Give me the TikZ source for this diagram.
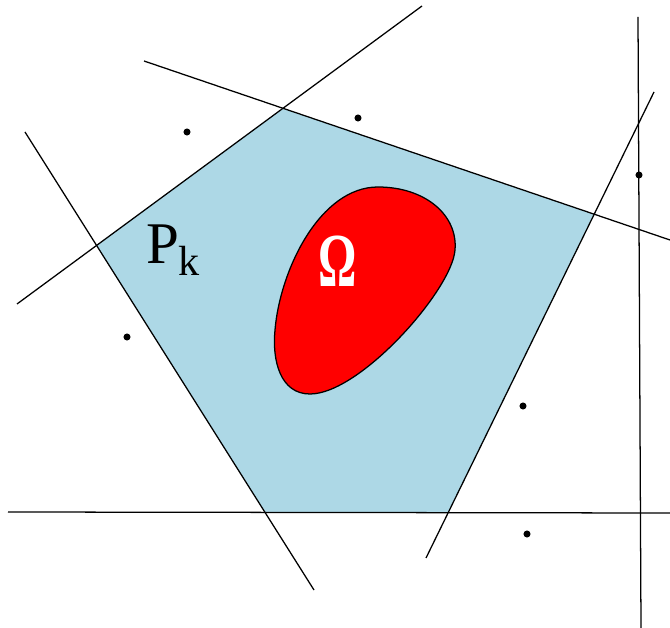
\documentclass[tikz,border=0pt]{standalone}
\usepackage{fontspec}
\setmainfont{Liberation Serif}
\usepackage{tikz}
\definecolor{cellblue}{RGB}{173,216,230}

\begin{document}
\begin{tikzpicture}[x=0.025cm, y=-0.025cm, line width=0.9pt]
    \useasboundingbox (0,0) rectangle (670,628);
    % end points of the cutting lines
    \coordinate (a1) at (17,304);  \coordinate (a2) at (422,6);
    \coordinate (b1) at (144,61);  \coordinate (b2) at (670,240);
    \coordinate (c1) at (654,92);  \coordinate (c2) at (426,558);
    \coordinate (d1) at (8,512);   \coordinate (d2) at (670,513);
    \coordinate (e1) at (25,132);  \coordinate (e2) at (314,590);
    \coordinate (f1) at (638,17);  \coordinate (f2) at (641,628);
    % vertices of the cell
    \coordinate (v1) at (intersection of a1--a2 and e1--e2);
    \coordinate (v2) at (intersection of a1--a2 and b1--b2);
    \coordinate (v3) at (intersection of b1--b2 and c1--c2);
    \coordinate (v4) at (intersection of c1--c2 and d1--d2);
    \coordinate (v5) at (intersection of d1--d2 and e1--e2);
    \fill[cellblue] (v1) -- (v2) -- (v3) -- (v4) -- (v5) -- cycle;
    \foreach \p/\q in {a1/a2, b1/b2, c1/c2, d1/d2, e1/e2, f1/f2}
        \draw (\p) -- (\q);
    % the domain
    \filldraw[fill=red, draw=black] (378,187) .. controls (425,187) and (458,215) .. (455,250)
        .. controls (452,290) and (360,394) .. (310,394)
        .. controls (280,394) and (272,360) .. (275,330)
        .. controls (280,270) and (320,187) .. (378,187) -- cycle;
    % sites
    \foreach \s in {(187,132), (358,118), (639,175), (127,337), (523,406), (527,534)}
        \fill \s circle (2.5pt);
    \node (pk) at (173,250) {\fontsize{42}{42}\selectfont P\raisebox{-8.5pt}{\fontsize{30}{30}\selectfont k}};
    \node[white, inner sep=0pt] (om) at (337.5,261) {\scalebox{0.74}[1.18]{\fontsize{46}{46}\selectfont\bfseries Ω}};
\end{tikzpicture}
\end{document}
